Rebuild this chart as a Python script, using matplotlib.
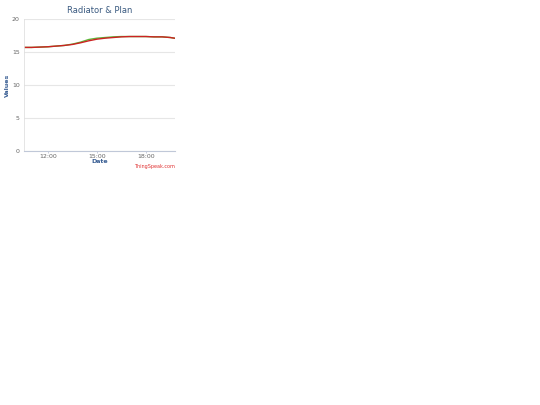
import matplotlib
matplotlib.use("Agg")
import matplotlib.pyplot as plt
import matplotlib.dates as mdates
import pandas as pd

# readings every 30 minutes
times = ["10:30", "11:00", "11:30", "12:00", "12:30", "13:00", "13:30",
         "14:00", "14:30", "15:00", "15:30", "16:00", "16:30", "17:00",
         "17:30", "18:00", "18:30", "19:00", "19:30", "19:45"]
radiator = [15.7, 15.7, 15.75, 15.8, 15.9, 16.0, 16.15, 16.4, 16.7, 16.95,
            17.1, 17.2, 17.3, 17.35, 17.35, 17.35, 17.3, 17.3, 17.2, 17.1]
plan = [15.7, 15.7, 15.75, 15.8, 15.9, 16.0, 16.2, 16.5, 16.9, 17.1,
        17.2, 17.3, 17.35, 17.35, 17.35, 17.35, 17.3, 17.3, 17.2, 17.1]
y_ticks = [0, 5, 10, 15, 20]
x_ticks = ["12:00", "15:00", "18:00"]

day = "2020-01-01 "
t = pd.to_datetime([day + s for s in times])

fig = plt.figure(figsize=(5.4, 4.05), dpi=100)
ax = fig.add_axes([0.0444, 0.627, 0.2796, 0.326])

ax.plot(t, plan, color="#5cb83a", lw=1.0)
ax.plot(t, radiator, color="#cc2222", lw=1.0)

ax.set_xlim(pd.Timestamp(day + "10:32"), pd.Timestamp(day + "19:47"))
ax.set_ylim(0, 20)
ax.set_yticks(y_ticks)
ax.set_xticks(pd.to_datetime([day + s for s in x_ticks]))
ax.xaxis.set_major_formatter(mdates.DateFormatter("%H:%M"))

ax.grid(axis="y", color="#e6e6e6", lw=0.8)
ax.set_axisbelow(True)
for side in ["top", "right"]:
    ax.spines[side].set_visible(False)
ax.spines["left"].set_color("#e0e0e0")
ax.spines["left"].set_linewidth(0.6)
ax.spines["bottom"].set_color("#c0c8d8")
ax.spines["bottom"].set_linewidth(0.8)
ax.tick_params(axis="y", length=0, labelsize=4.5, labelcolor="#666666", pad=3)
ax.tick_params(axis="x", length=1.5, width=0.6, color="#c0c8d8",
               labelsize=4.5, labelcolor="#666666", pad=0.5)

ax.set_title("Radiator & Plan", fontsize=6, color="#3a5a80", pad=4)
ax.set_xlabel("Date", fontsize=4.5, color="#3a5f94", fontweight="bold", labelpad=0)
ax.set_ylabel("Values", fontsize=4.5, color="#3a5f94", fontweight="bold")
ax.yaxis.set_label_coords(-0.09, 0.5)

fig.text(0.324, 0.588, "ThingSpeak.com", fontsize=3.5, color="#e03030",
         ha="right", va="center")

fig.savefig("out.png", dpi=100, facecolor="white")
